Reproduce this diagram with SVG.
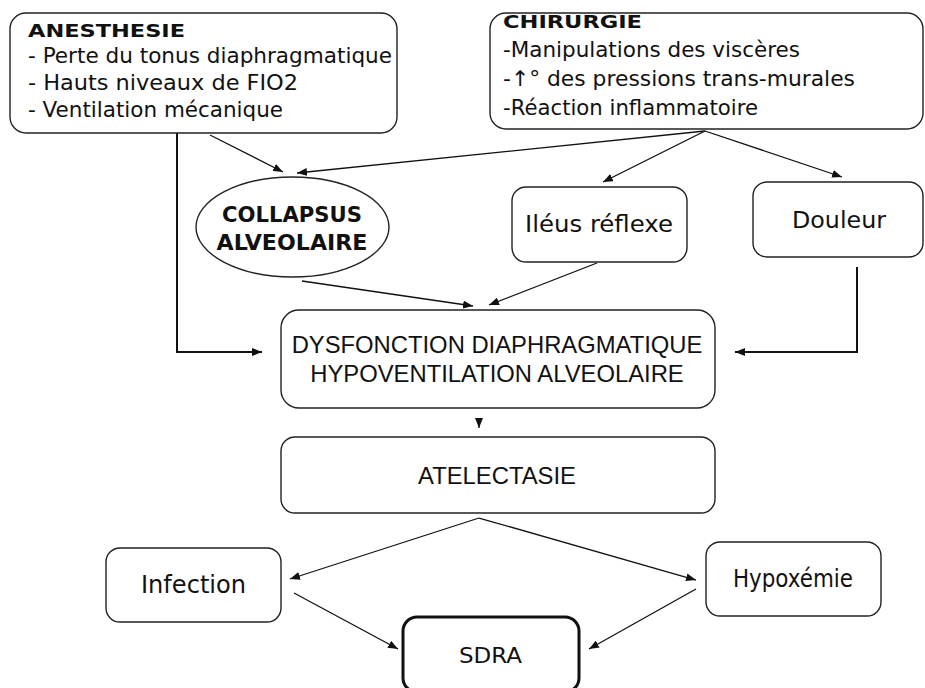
<svg xmlns="http://www.w3.org/2000/svg" width="925" height="688" viewBox="0 0 925 688">
<defs>
<style>
.box{fill:#fff;stroke:#222;stroke-width:1.4}
.thick{fill:#fff;stroke:#111;stroke-width:3}
.c{font-family:"DejaVu Sans","Noto Sans",sans-serif;font-size:21.5px;fill:#111}
.b{font-weight:bold;font-size:17.5px}
.a{font-family:"Liberation Sans",Arial,sans-serif;font-size:23.8px;fill:#111;text-anchor:middle}
.m{text-anchor:middle}
.ln{fill:none;stroke:#111;stroke-width:1.3;marker-end:url(#ah)}
.ln2{fill:none;stroke:#111;stroke-width:2;marker-end:url(#ah)}
</style>
<marker id="ah" viewBox="0 0 10 8" refX="10" refY="4" markerWidth="10" markerHeight="8" markerUnits="userSpaceOnUse" orient="auto">
<path d="M0,0 L10,4 L0,8 z" fill="#111"/>
</marker>
</defs>
<rect width="925" height="688" fill="#fff"/>
<g id="connectors">
<polyline class="ln2" points="177,133 177,352 262,352"/>
<line class="ln" x1="210" y1="135" x2="283" y2="172"/>
<line class="ln" x1="705" y1="131" x2="297" y2="173"/>
<line class="ln" x1="705" y1="131" x2="603" y2="182"/>
<line class="ln" x1="705" y1="131" x2="842" y2="177"/>
<polyline class="ln2" points="857,267 857,352 735,352"/>
<line class="ln" x1="302" y1="281" x2="473" y2="306"/>
<line class="ln" x1="597" y1="263" x2="489" y2="305"/>
<line class="ln" x1="479" y1="420" x2="479" y2="428"/>
<line class="ln" x1="479" y1="518" x2="290" y2="579"/>
<line class="ln" x1="479" y1="518" x2="696" y2="580"/>
<line class="ln" x1="294" y1="593" x2="398" y2="649"/>
<line class="ln" x1="696" y1="589" x2="589" y2="649"/>
</g>
<g id="anesthesie">
<rect class="box" x="10" y="13" width="387" height="120" rx="16"/>
<text class="c b" x="28" y="37" textLength="157" lengthAdjust="spacingAndGlyphs">ANESTHESIE</text>
<text class="c" x="28" y="63" textLength="364" lengthAdjust="spacingAndGlyphs">- Perte du tonus diaphragmatique</text>
<text class="c" x="28" y="90" textLength="270" lengthAdjust="spacingAndGlyphs">- Hauts niveaux de FIO2</text>
<text class="c" x="28" y="117" textLength="255" lengthAdjust="spacingAndGlyphs">- Ventilation mécanique</text>
</g>
<g id="chirurgie">
<rect class="box" x="490" y="13" width="433" height="116" rx="16"/>
<text class="c b" x="503" y="28" textLength="139" lengthAdjust="spacingAndGlyphs">CHIRURGIE</text>
<text class="c" x="503" y="57" textLength="297" lengthAdjust="spacingAndGlyphs">-Manipulations des viscères</text>
<text class="c" x="503" y="86" textLength="352" lengthAdjust="spacingAndGlyphs">-↑° des pressions trans-murales</text>
<text class="c" x="503" y="115" textLength="255" lengthAdjust="spacingAndGlyphs">-Réaction inflammatoire</text>
</g>
<g id="collapsus">
<ellipse class="box" cx="292.5" cy="227" rx="96.5" ry="50"/>
<text class="c b m" x="292" y="222" font-size="21" style="font-size:21px" textLength="140" lengthAdjust="spacingAndGlyphs">COLLAPSUS</text>
<text class="c b m" x="292" y="250" style="font-size:21px" textLength="151" lengthAdjust="spacingAndGlyphs">ALVEOLAIRE</text>
</g>
<g id="ileus">
<rect class="box" x="512" y="187" width="175" height="75" rx="14"/>
<text class="c m" x="599" y="232" style="font-size:23px" textLength="148" lengthAdjust="spacingAndGlyphs">Iléus réflexe</text>
</g>
<g id="douleur">
<rect class="box" x="753" y="182" width="170" height="75" rx="14"/>
<text class="c m" x="839" y="228" style="font-size:23px" textLength="94" lengthAdjust="spacingAndGlyphs">Douleur</text>
</g>
<g id="dysfonction">
<rect class="box" x="281" y="310" width="434" height="98" rx="18"/>
<text class="a" x="497" y="353">DYSFONCTION DIAPHRAGMATIQUE</text>
<text class="a" x="497" y="382">HYPOVENTILATION ALVEOLAIRE</text>
</g>
<g id="atelectasie">
<rect class="box" x="281" y="437" width="434" height="76" rx="14"/>
<text class="a" x="497" y="484">ATELECTASIE</text>
</g>
<g id="infection">
<rect class="box" x="106" y="548" width="175" height="74" rx="14"/>
<text class="c m" x="193.5" y="593" style="font-size:24px" textLength="105" lengthAdjust="spacingAndGlyphs">Infection</text>
</g>
<g id="hypoxemie">
<rect class="box" x="706" y="542" width="175" height="74" rx="14"/>
<text class="c m" x="793" y="587" style="font-size:24px" textLength="120" lengthAdjust="spacingAndGlyphs">Hypoxémie</text>
</g>
<g id="sdra">
<rect class="thick" x="403" y="617" width="176" height="75" rx="14"/>
<text class="c m" x="490.5" y="663" style="font-size:21px" textLength="63" lengthAdjust="spacingAndGlyphs">SDRA</text>
</g>
</svg>
